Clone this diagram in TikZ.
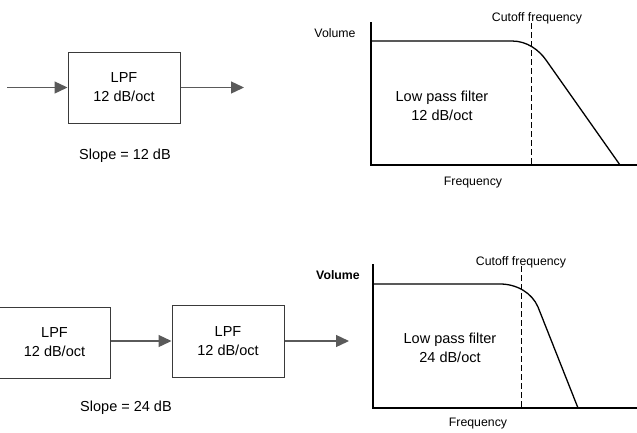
\documentclass[tikz,border=0pt]{standalone}
\usepackage{fontspec}
\setmainfont{Liberation Sans}
\usetikzlibrary{arrows.meta, positioning, calc}
\definecolor{arrowgrey}{HTML}{5A5A5A}
\definecolor{boxline}{HTML}{3A3A3A}

\begin{document}
\begin{tikzpicture}[x=1pt,y=-1pt,
    lpfbox/.style={rectangle,draw=boxline,line width=1pt,align=center,
                   minimum width=112pt,minimum height=71pt,
                   font=\fontsize{14.5}{19}\selectfont},
    signal/.style={arrowgrey,line width=1.3pt,
                   -{Triangle[length=13pt,width=12pt]}},
    axis/.style={black,line width=2.2pt},
    response/.style={black,line width=1.3pt},
    cutoff/.style={black,line width=0.9pt,dash pattern=on 6pt off 3pt},
    biglabel/.style={align=center,font=\fontsize{14.5}{18.5}\selectfont},
    smalllabel/.style={font=\fontsize{12.3}{14}\selectfont}]
      \useasboundingbox (0,0) rectangle (637,432);

      % one filter, 12 dB/oct
      \node[lpfbox] (lpfA) at (124,87.5) {LPF\\12 dB/oct};
      \coordinate (inA) at (7,87.5);
      \coordinate (outA) at (244,87.5);
      \draw[signal] (inA) -- (lpfA.west);
      \draw[signal] (lpfA.east) -- (outA);
      \node[biglabel] (slopeA) at (125,156) {Slope = 12 dB};

      \draw[axis] (371,22) -- (371,165) -- (640,165);
      \draw[response] (371,41) -- (512,41)
            .. controls (527,41) and (539,50) .. (546,60) -- (620,165);
      \draw[cutoff] (531,23) -- (531,164);
      \node[smalllabel] (volA) at (335,33) {Volume};
      \node[smalllabel] (cutA) at (537,18) {Cutoff frequency};
      \node[smalllabel] (freqA) at (473,183) {Frequency};
      \node[biglabel] (lowA) at (442,106) {Low pass filter\\12 dB/oct};

      % two filters in series, 24 dB/oct
      \node[lpfbox,minimum width=111pt] (lpfB) at (54.5,342.5) {LPF\\12 dB/oct};
      \node[lpfbox,minimum height=72pt] (lpfC) at (228,341) {LPF\\12 dB/oct};
      \coordinate (outC) at (349,341);
      \draw[signal] (lpfB.east |- lpfC.west) -- (lpfC.west);
      \draw[signal] (lpfC.east) -- (outC);
      \node[biglabel] (slopeB) at (126,408) {Slope = 24 dB};

      \draw[axis] (373,264) -- (373,408) -- (640,408);
      \draw[response] (373,284) -- (500,284)
            .. controls (517,284) and (532,293) .. (538,307) -- (578,408);
      \draw[cutoff] (521,266) -- (521,407);
      \node[smalllabel,font=\fontsize{12.3}{14}\selectfont\bfseries] (volB) at (338,275) {Volume};
      \node[smalllabel] (cutB) at (521,262) {Cutoff frequency};
      \node[smalllabel] (freqB) at (478,424) {Frequency};
      \node[biglabel] (lowB) at (450,348) {Low pass filter\\24 dB/oct};
\end{tikzpicture}
\end{document}
